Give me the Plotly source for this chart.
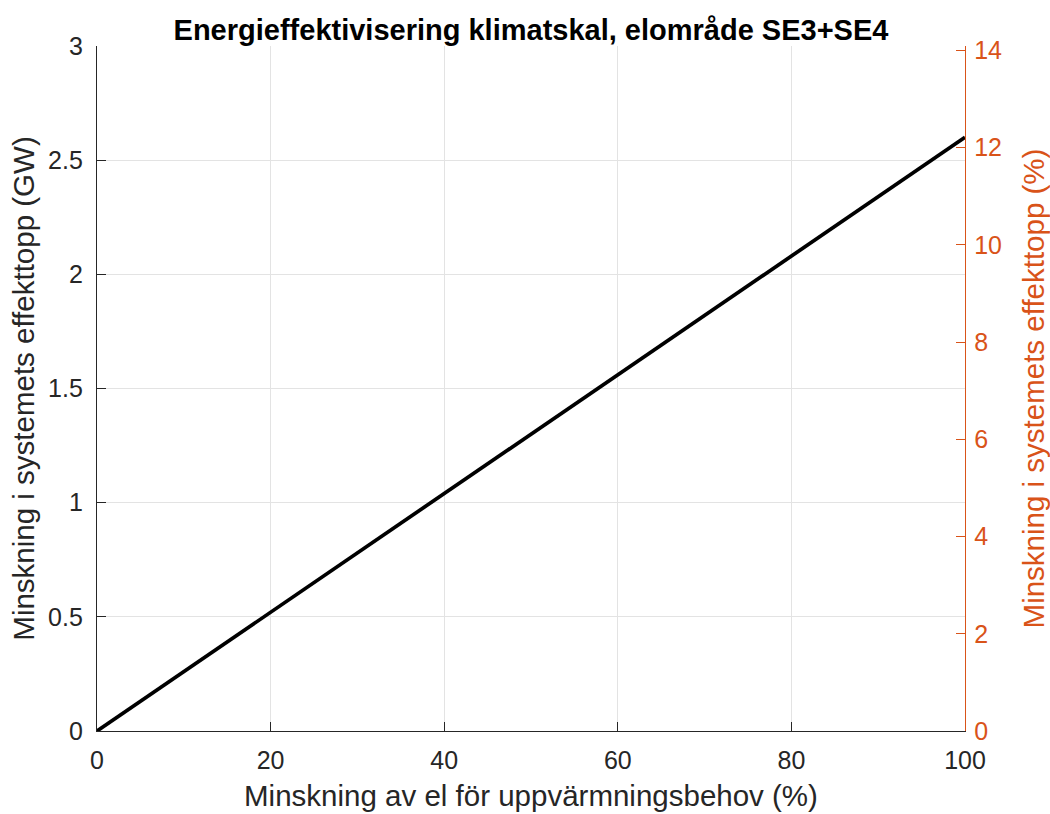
import plotly.graph_objects as go

# Data
reduction_heating_pct = [0, 20, 40, 60, 80, 100]
peak_reduction_gw = [0, 0.52, 1.04, 1.56, 2.08, 2.60]
peak_reduction_pct = [0, 2.45, 4.89, 7.34, 9.78, 12.23]

x_ticks = [0, 20, 40, 60, 80, 100]
left_ticks = [0, 0.5, 1, 1.5, 2, 2.5, 3]
left_tick_text = ["0", "0.5", "1", "1.5", "2", "2.5", "3"]
right_ticks = [0, 2, 4, 6, 8, 10, 12, 14]

title_text = "Energieffektivisering klimatskal, elområde SE3+SE4"
x_title = "Minskning av el för uppvärmningsbehov (%)"
y_title = "Minskning i systemets effekttopp (GW)"
y2_title = "Minskning i systemets effekttopp (%)"

DARK = "#262626"
ORANGE = "#D95319"
FONT = "Liberation Sans"

fig = go.Figure()
fig.add_trace(go.Scatter(
    x=reduction_heating_pct, y=peak_reduction_gw, mode="lines",
    line=dict(color="black", width=3.7), showlegend=False, yaxis="y"))
fig.add_trace(go.Scatter(
    x=reduction_heating_pct, y=peak_reduction_pct, mode="lines",
    line=dict(color="rgba(0,0,0,0)", width=0), showlegend=False,
    hoverinfo="skip", yaxis="y2"))

fig.update_layout(
    width=1050, height=814,
    margin=dict(l=97, r=85, t=46, b=83),
    paper_bgcolor="white", plot_bgcolor="white",
    font=dict(family=FONT, size=25, color=DARK),
    title=dict(text="<b>" + title_text + "</b>", x=0.5, xref="paper",
               y=1, yref="paper", yanchor="bottom", pad=dict(b=6),
               font=dict(family=FONT, size=29, color="black")),
    xaxis=dict(range=[0, 100], tickvals=x_ticks, showgrid=True,
               gridcolor="#E3E3E3", gridwidth=1, zeroline=False,
               showline=True, linecolor=DARK, linewidth=1.3,
               ticks="inside", ticklen=9, tickcolor=DARK,
               ticklabelstandoff=7, automargin=False,
               tickfont=dict(size=25, color=DARK),
               title=dict(text=x_title, font=dict(size=29.5, color=DARK), standoff=12)),
    yaxis=dict(range=[0, 3], tickvals=left_ticks, ticktext=left_tick_text,
               showgrid=True, gridcolor="#E3E3E3", gridwidth=1, zeroline=False,
               showline=True, linecolor=DARK, linewidth=1.3,
               ticks="inside", ticklen=9, tickcolor=DARK,
               ticklabelstandoff=8, automargin=False,
               tickfont=dict(size=25, color=DARK),
               title=dict(text=y_title, font=dict(size=29.5, color=DARK), standoff=4)),
    yaxis2=dict(range=[0, 14.09], tickvals=right_ticks, overlaying="y", side="right",
                showgrid=False, zeroline=False,
                showline=True, linecolor=ORANGE, linewidth=1.3,
                ticks="inside", ticklen=9, tickcolor=ORANGE,
                ticklabelstandoff=3, automargin=False,
                tickfont=dict(size=25, color=ORANGE),
                title=dict(text=y2_title, font=dict(size=29.5, color=ORANGE), standoff=26)),
)

fig.write_html("out.html")
